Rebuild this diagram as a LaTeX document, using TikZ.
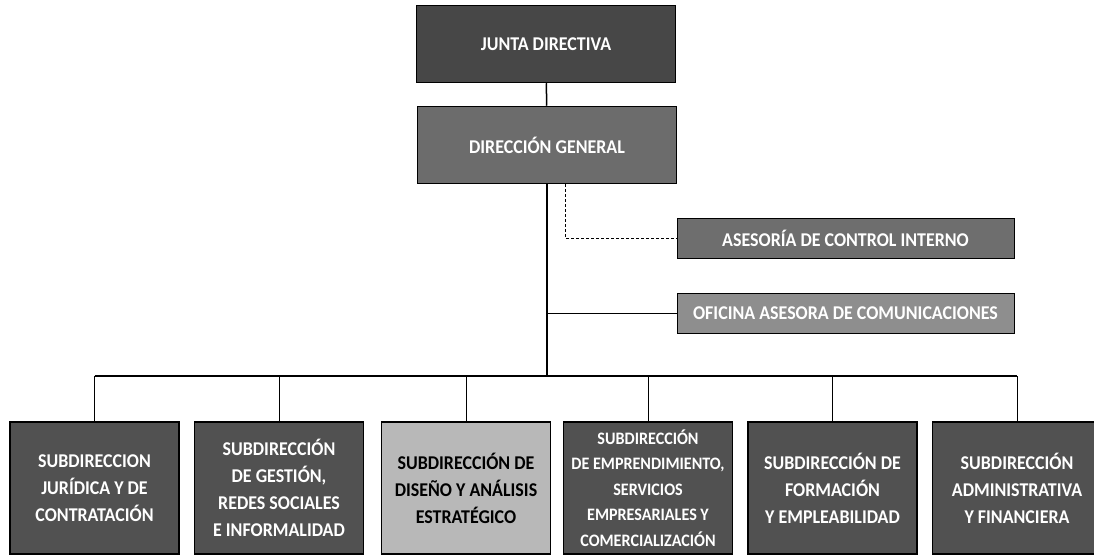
\documentclass[tikz,border=0pt]{standalone}
\usepackage{fontspec}
\setmainfont{Carlito}[FakeStretch=0.92]
\definecolor{cJunta}{HTML}{474747}
\definecolor{cDir}{HTML}{6C6C6C}
\definecolor{cAses}{HTML}{6E6E6E}
\definecolor{cOfi}{HTML}{8E8E8E}
\definecolor{cSub}{HTML}{515151}
\definecolor{cLight}{HTML}{B8B8B8}
\tikzset{
  box/.style={draw=black, line width=1.5pt, inner sep=0pt, align=center,
    font=\fontsize{19.5}{27}\selectfont\bfseries, text=white},
  topbox/.style={box, minimum width=259pt, minimum height=77pt},
  sidebox/.style={box, minimum width=337pt, minimum height=40pt, line width=1pt},
  subbox/.style={box, minimum width=169pt, minimum height=132pt, fill=cSub},
  link/.style={line width=1.5pt, black},
  thinlink/.style={line width=1pt, black},
}
\begin{document}
\begin{tikzpicture}[x=1pt,y=-1pt]
\useasboundingbox[fill=white] (0,0) rectangle (1094,556);
\node[topbox, fill=cJunta] (junta) at (546,44) {JUNTA DIRECTIVA};
\node[topbox, fill=cDir] (dg) at (547,145) {DIRECCIÓN GENERAL};
\node[sidebox, fill=cAses] (ases) at (845.5,238) {ASESORÍA DE CONTROL INTERNO};
\node[sidebox, fill=cOfi] (ofi) at (845.5,313.5) {OFICINA ASESORA DE COMUNICACIONES};

\node[subbox] (b1) at (94.5,488) {SUBDIRECCION\\JURÍDICA Y DE\\CONTRATACIÓN};
\node[subbox] (b2) at (279,488) {SUBDIRECCIÓN\\DE GESTIÓN,\\REDES SOCIALES\\E INFORMALIDAD};
\node[subbox, fill=cLight, text=black] (b3) at (466,488) {SUBDIRECCIÓN DE\\DISEÑO Y ANÁLISIS\\ESTRATÉGICO};
\node[subbox, font=\fontsize{17.5}{25.5}\selectfont\bfseries] (b4) at (648,488) {SUBDIRECCIÓN\\DE EMPRENDIMIENTO,\\SERVICIOS\\EMPRESARIALES Y\\COMERCIALIZACIÓN};
\node[subbox] (b5) at (832.5,488) {SUBDIRECCIÓN DE\\FORMACIÓN\\Y EMPLEABILIDAD};
\node[subbox] (b6) at (1017,488) {SUBDIRECCIÓN\\ADMINISTRATIVA\\Y FINANCIERA};

\coordinate (hub) at (547,376);
\draw[link] (junta) -- (dg);
\draw[line width=2.2pt] (dg.south) -- (hub);
\draw[thinlink, densely dashed] ([xshift=18pt]dg.south) |- (ases.west);
\draw[thinlink] (dg.south |- ofi.west) -- (ofi.west);
\draw[link] (hub -| b1.north) -- (hub -| b6.north);
\foreach \b in {b1,b2,b3,b4,b5,b6}{
  \draw[thinlink] (hub -| \b.north) -- (\b.north);
}
\end{tikzpicture}
\end{document}
